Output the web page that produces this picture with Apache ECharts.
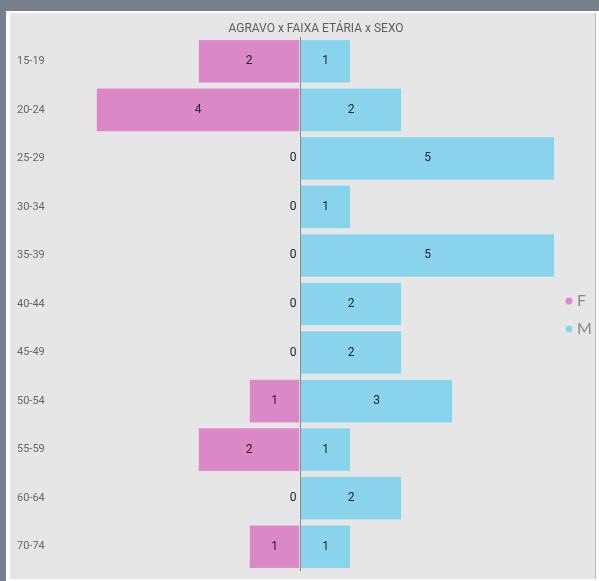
<!DOCTYPE html>
<html>
<head>
<meta charset="utf-8">
<script src="https://cdn.jsdelivr.net/npm/echarts@6/dist/echarts.min.js"></script>
<style>
html,body{margin:0;padding:0;width:599px;height:581px;overflow:hidden;background:#77808b;}
#frame{position:absolute;left:6px;top:11px;width:593px;height:570px;background:#ffffff;}
#panel{position:absolute;left:10px;top:13px;width:585px;height:566px;background:#e6e6e6;border-right:1px solid #b8b8b8;}
#chart{position:absolute;left:0;top:0;width:599px;height:581px;}
</style>
</head>
<body>
<div id="frame"></div>
<div id="panel"></div>
<div id="chart"></div>
<script>
const categories = ['15-19','20-24','25-29','30-34','35-39','40-44','45-49','50-54','55-59','60-64','70-74'];
const femaleValues = [2,4,0,0,0,0,0,1,2,0,1];
const maleValues = [1,2,5,1,5,2,2,3,1,2,1];
const seriesNames = ['F','M'];
const colors = ['#da88c6','#89d4ec'];
const FONT = "Roboto,'Liberation Sans',sans-serif";

function buildData(values, sign){
  return values.map(v => {
    const item = {value: sign * v};
    if (v === 0) {
      item.label = {position: 'left', distance: 3};
    }
    return item;
  });
}

const chart = echarts.init(document.getElementById('chart'), null, {renderer:'canvas'});
chart.setOption({
  backgroundColor: 'transparent',
  animation: false,
  title: {
    text: 'AGRAVO x FAIXA ETÁRIA x SEXO',
    left: 311, top: 18, textAlign: 'center',
    textStyle: {fontFamily: FONT, fontSize: 12, fontWeight: 'normal', color: '#5e5e5e'}
  },
  legend: {
    orient: 'vertical',
    left: 559, top: 288,
    itemGap: 12,
    icon: 'circle',
    itemWidth: 8, itemHeight: 8,
    textStyle: {fontFamily: "'Lato','Noto Sans',sans-serif", fontSize: 16, color: '#8a8a8a', padding: [0,0,0,-1]},
    data: seriesNames
  },
  grid: {left: 45, right: 44, top: 37, bottom: 10},
  xAxis: {
    type: 'value', min: -5, max: 5, interval: 1,
    show: false
  },
  yAxis: {
    type: 'category',
    data: categories,
    inverse: true,
    axisLine: {show: false},
    axisTick: {show: false},
    axisLabel: {align: 'left', margin: 28, fontFamily: FONT, fontSize: 11, color: '#666'}
  },
  series: [
    {
      name: seriesNames[0], type: 'bar',
      data: buildData(femaleValues, -1),
      barWidth: '91%', barGap: '-100%',
      itemStyle: {color: colors[0], borderColor: 'rgba(255,255,255,0.35)', borderWidth: 1},
      label: {show: true, position: 'inside', fontFamily: FONT, fontSize: 12, color: '#222',
        formatter: p => Math.abs(p.value)},
      markLine: {
        silent: true, symbol: 'none', label: {show: false},
        lineStyle: {color: '#8a8a8a', width: 1, type: 'solid'},
        data: [{xAxis: 0}]
      }
    },
    {
      name: seriesNames[1], type: 'bar',
      data: buildData(maleValues, 1),
      barWidth: '91%', barGap: '-100%',
      itemStyle: {color: colors[1], borderColor: 'rgba(255,255,255,0.35)', borderWidth: 1},
      label: {show: true, position: 'inside', fontFamily: FONT, fontSize: 12, color: '#222'}
    }
  ]
});
</script>
</body>
</html>
